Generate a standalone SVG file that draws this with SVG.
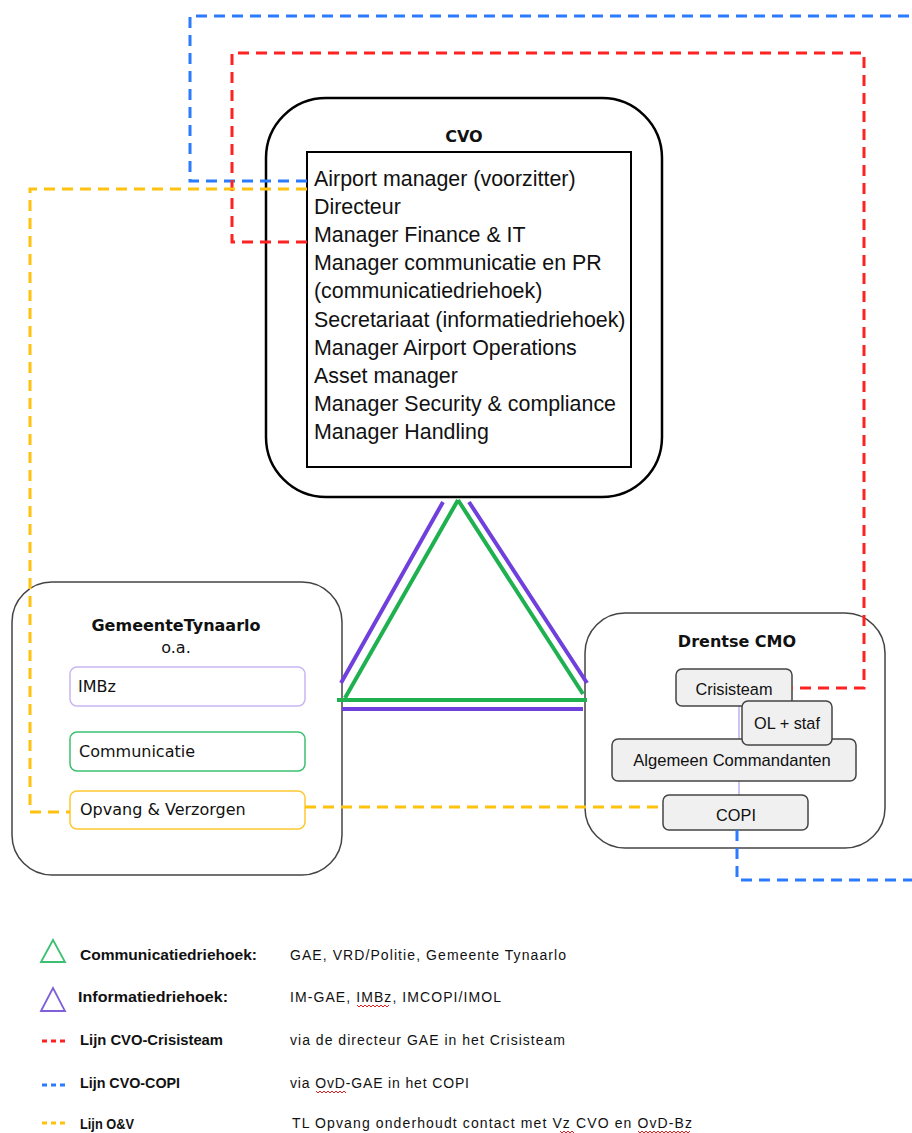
<svg xmlns="http://www.w3.org/2000/svg" width="912" height="1133" viewBox="0 0 912 1133">
<style>
.frame{fill:#fff;stroke:#000;stroke-width:2.5}
.soft{fill:#fff;stroke:#444;stroke-width:1.5}
.cal{font-family:"Liberation Sans",Arial,sans-serif;fill:#111}
.ver{font-family:"DejaVu Sans",Verdana,sans-serif;fill:#111}
.ttl{font-weight:bold}
.gbox{fill:#f0f0f0;stroke:#444;stroke-width:1.5}
.dash{fill:none;stroke-width:3;stroke-dasharray:11 7}
.blue{stroke:#2a7bff}
.red{stroke:#ff2222}
.yel{stroke:#ffc20e}
.grn{stroke:#1fb150;stroke-width:4;fill:none}
.pur{stroke:#7040dc;stroke-width:4;fill:none}
.sq{fill:none;stroke:#e02020;stroke-width:1}
</style>

<g id="cvo">
<rect class="frame" x="266" y="98" width="396" height="399" rx="60"/>
<rect x="307" y="152" width="324" height="315" fill="#fff" stroke="#000" stroke-width="2"/>
<text class="ver ttl" x="464" y="142" font-size="16" text-anchor="middle">CVO</text>
<g class="cal" font-size="21.4">
<text x="314" y="186">Airport manager (voorzitter)</text>
<text x="314" y="214">Directeur</text>
<text x="314" y="242">Manager Finance &amp; IT</text>
<text x="314" y="270">Manager communicatie en PR</text>
<text x="314" y="298">(communicatiedriehoek)</text>
<text x="314" y="326.5">Secretariaat (informatiedriehoek)</text>
<text x="314" y="355">Manager Airport Operations</text>
<text x="314" y="383">Asset manager</text>
<text x="314" y="411">Manager Security &amp; compliance</text>
<text x="314" y="439">Manager Handling</text>
</g>
</g>

<g id="gemeente">
<rect class="soft" x="12" y="582" width="330" height="293" rx="40"/>
<text class="ver ttl" x="176" y="631" font-size="16" text-anchor="middle">GemeenteTynaarlo</text>
<text class="ver" x="176" y="653" font-size="16" text-anchor="middle" fill="#333">o.a.</text>
<rect x="70" y="667" width="235" height="39" rx="7" fill="#fff" stroke="#c9b6f2" stroke-width="1.5"/>
<text class="ver" x="78" y="692" font-size="16">IMBz</text>
<rect x="70" y="732" width="235" height="39" rx="7" fill="#fff" stroke="#3cc070" stroke-width="1.5"/>
<text class="ver" x="79" y="757" font-size="16">Communicatie</text>
<rect x="70" y="791" width="235" height="38" rx="7" fill="#fff" stroke="#ffc830" stroke-width="1.5"/>
<text class="ver" x="80" y="815" font-size="16">Opvang &amp; Verzorgen</text>
</g>

<g id="cmo">
<rect class="soft" x="585" y="613" width="300" height="235" rx="40"/>
<text class="ver ttl" x="737" y="647" font-size="16" text-anchor="middle">Drentse CMO</text>
<path d="M739 706 V739 M739 781 V795" stroke="#c0b0f0" stroke-width="1.5"/>
<rect class="gbox" x="676" y="669" width="116" height="37" rx="6"/>
<text class="cal" x="734" y="695" font-size="16.3" text-anchor="middle">Crisisteam</text>
<rect class="gbox" x="612" y="739" width="244" height="42" rx="6"/>
<text class="cal" x="732" y="766" font-size="16.6" text-anchor="middle">Algemeen Commandanten</text>
<rect class="gbox" x="742" y="701" width="90" height="44" rx="6"/>
<text class="cal" x="787" y="729" font-size="16.3" text-anchor="middle">OL + staf</text>
<rect class="gbox" x="663" y="795" width="145" height="35" rx="6"/>
<text class="cal" x="736" y="821" font-size="16.3" text-anchor="middle">COPI</text>
</g>

<g id="connectors">
<path class="dash blue" d="M307 181 H190 V16 H912"/>
<path class="dash blue" d="M737 830 V880 H912"/>
<path class="dash red" d="M307 242 H232 V53 H864 V688 H792"/>
<path class="dash yel" d="M307 189 H30 V812 H70"/>
<path class="dash yel" d="M305 807 H663"/>
<path class="pur" d="M443 502 L341 683 M469 502 L587 683 M342 709 H583"/>
<path class="grn" d="M458 500 L345 698 M458 500 L583 694 M337 700 H587"/>
</g>

<g id="legend">
<polygon points="41,962 53,940 65,962" fill="none" stroke="#3cc070" stroke-width="1.8"/>
<polygon points="41,1011 53,988 65,1011" fill="none" stroke="#8060d8" stroke-width="1.8"/>
<path d="M42 1041 h5 m4 0 h5 m4 0 h5" stroke="#ff2222" stroke-width="3"/>
<path d="M42 1085 h5 m4 0 h5 m4 0 h5" stroke="#2a7bff" stroke-width="3"/>
<path d="M42 1123 h5 m4 0 h5 m4 0 h5" stroke="#ffc20e" stroke-width="3"/>
<g class="cal ttl" font-size="15.5">
<text x="80" y="960" textLength="177" lengthAdjust="spacingAndGlyphs">Communicatiedriehoek:</text>
<text x="78" y="1002" textLength="150" lengthAdjust="spacingAndGlyphs">Informatiedriehoek:</text>
<text x="80" y="1045" textLength="143" lengthAdjust="spacingAndGlyphs">Lijn CVO-Crisisteam</text>
<text x="80" y="1088" textLength="100" lengthAdjust="spacingAndGlyphs">Lijn CVO-COPI</text>
<text x="80" y="1129" textLength="54" lengthAdjust="spacingAndGlyphs">Lijn O&amp;V</text>
</g>
<g class="cal" font-size="14">
<text x="290" y="960" textLength="276" lengthAdjust="spacing">GAE, VRD/Politie, Gemeente Tynaarlo</text>
<text x="290" y="1002" textLength="211" lengthAdjust="spacing">IM-GAE,  IMBz, IMCOPI/IMOL</text>
<text x="290" y="1045" textLength="275" lengthAdjust="spacing">via de directeur GAE in het Crisisteam</text>
<text x="290" y="1088" textLength="179" lengthAdjust="spacing">via OvD-GAE in het COPI</text>
<text x="292" y="1128" textLength="400" lengthAdjust="spacing">TL Opvang onderhoudt contact met  Vz CVO  en OvD-Bz</text>
</g>
<path class="sq" d="M357 1005 l2 2 l2 -2 l2 2 l2 -2 l2 2 l2 -2 l2 2 l2 -2 l2 2 l2 -2 l2 2 l2 -2 l2 2 l2 -2 l2 2 l2 -2"/>
<path class="sq" d="M316 1091 l2 2 l2 -2 l2 2 l2 -2 l2 2 l2 -2 l2 2 l2 -2 l2 2 l2 -2 l2 2 l2 -2 l2 2 l2 -2 l2 2"/>
<path class="sq" d="M560 1131 l2 2 l2 -2 l2 2 l2 -2 l2 2 l2 -2 l2 2"/>
<path class="sq" d="M638 1131 l2 2 l2 -2 l2 2 l2 -2 l2 2 l2 -2 l2 2 l2 -2 l2 2 l2 -2 l2 2 l2 -2 l2 2 l2 -2 l2 2 l2 -2 l2 2 l2 -2 l2 2 l2 -2 l2 2 l2 -2 l2 2 l2 -2 l2 2 l2 -2"/>
</g>
</svg>
